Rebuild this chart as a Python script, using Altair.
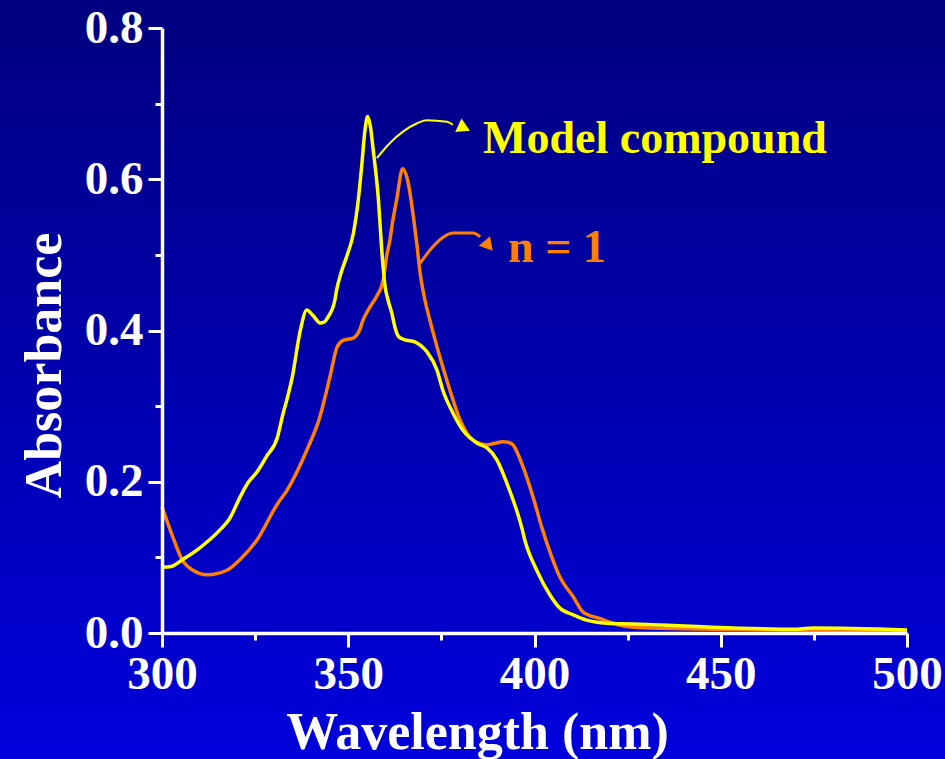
import altair as alt
import pandas as pd

# Model compound (yellow) spectrum
model_wl = [300.0, 302.5, 305.5, 310.0, 315.5, 318.0, 321.0, 323.0, 325.5, 328.0, 331.0, 332.5,
            333.5, 335.0, 337.0, 338.9, 340.5, 342.5, 343.5, 344.6, 346.4, 346.9, 348.0, 349.6,
            351.4, 352.7, 353.6, 354.5, 355.2, 356.0, 356.7, 358.1, 359.0, 359.9, 360.7, 361.7,
            362.5, 363.5, 365.0, 367.9, 369.5, 371.1, 373.8, 375.4, 378.1, 380.8, 384.6, 387.2,
            389.9, 392.6, 396.6, 397.4, 400.6, 404.2, 406.8, 410.4, 414.0, 419.4, 426.4, 443.5,
            470.4, 474.8, 500.0]
model_abs = [0.087, 0.088, 0.097, 0.112, 0.136, 0.150, 0.180, 0.198, 0.213, 0.233, 0.259, 0.290,
             0.308, 0.339, 0.397, 0.427, 0.420, 0.410, 0.411, 0.418, 0.440, 0.454, 0.475, 0.498,
             0.529, 0.573, 0.617, 0.665, 0.683, 0.668, 0.639, 0.573, 0.506, 0.458, 0.440, 0.423,
             0.405, 0.392, 0.388, 0.385, 0.380, 0.372, 0.348, 0.321, 0.291, 0.268, 0.251, 0.245,
             0.229, 0.198, 0.139, 0.123, 0.083, 0.050, 0.033, 0.024, 0.017, 0.013, 0.012, 0.0085,
             0.005, 0.0066, 0.004]

# n = 1 (orange) spectrum
n1_wl = [300.0, 302.9, 305.4, 308.3, 312.1, 317.4, 320.9, 325.5, 330.9, 333.6, 338.9, 342.4,
         345.1, 347.0, 348.6, 351.3, 353.0, 354.0, 355.8, 357.6, 359.4, 360.3, 361.2, 361.7,
         363.0, 364.6, 366.1, 367.5, 368.4, 369.3, 370.6, 371.9, 374.6, 377.3, 380.0, 383.5,
         387.2, 389.5, 391.5, 393.0, 394.2, 396.9, 399.6, 402.0, 404.6, 406.8, 410.4, 413.0,
         417.6, 424.8, 431.0, 470.4, 500.0]
n1_abs = [0.167, 0.127, 0.097, 0.083, 0.077, 0.083, 0.097, 0.123, 0.170, 0.189, 0.242, 0.286,
          0.339, 0.378, 0.387, 0.390, 0.400, 0.414, 0.431, 0.445, 0.467, 0.498, 0.520, 0.537,
          0.573, 0.614, 0.595, 0.550, 0.515, 0.476, 0.440, 0.414, 0.365, 0.321, 0.282, 0.255,
          0.249, 0.251, 0.253, 0.252, 0.249, 0.220, 0.180, 0.139, 0.101, 0.074, 0.048, 0.028,
          0.019, 0.0085, 0.0066, 0.004, 0.003]

# annotation arrows (data coordinates)
model_arrow_wl = [357.7, 361.2, 364.7, 368.5, 371.1, 376.5, 378.1]
model_arrow_abs = [0.628, 0.648, 0.663, 0.674, 0.678, 0.676, 0.672]
n1_arrow_wl = [369.3, 371.9, 374.6, 378.1, 383.5, 385.4]
n1_arrow_abs = [0.489, 0.506, 0.520, 0.529, 0.529, 0.524]
arrow_heads_wl = [380.6, 387.3]
arrow_heads_abs = [0.669, 0.514]

label_texts = ["Model compound", "n = 1"]
label_wl = [386.2, 392.9]
label_abs = [0.635, 0.490]

x_major = [300, 350, 400, 450, 500]
x_minor = [325, 375, 425, 475]
y_major = [0.0, 0.2, 0.4, 0.6, 0.8]
y_minor = [0.1, 0.3, 0.5, 0.7]

YELLOW = "#FFFF00"
ORANGE = "#FF8000"
FONT = "Liberation Serif"

xs = alt.Scale(domain=[300, 500], nice=False, zero=False)
ys = alt.Scale(domain=[0, 0.8], nice=False, zero=False)

model_df = pd.DataFrame({"wl": model_wl, "a": model_abs})
n1_df = pd.DataFrame({"wl": n1_wl, "a": n1_abs})
marr_df = pd.DataFrame({"wl": model_arrow_wl, "a": model_arrow_abs})
narr_df = pd.DataFrame({"wl": n1_arrow_wl, "a": n1_arrow_abs})
heads_df = pd.DataFrame({"wl": arrow_heads_wl, "a": arrow_heads_abs,
                         "c": [YELLOW, ORANGE], "ang": [115, 140]})
labels_df = pd.DataFrame({"t": label_texts, "wl": label_wl, "a": label_abs,
                          "c": [YELLOW, ORANGE]})

axis_common = dict(
    domainColor="white", domainWidth=3.5, tickColor="white", tickWidth=3,
    labelColor="white", labelFont=FONT, labelFontSize=47, labelFontWeight="bold",
    titleColor="white", titleFont=FONT, titleFontSize=52, titleFontWeight="bold",
    grid=False, zindex=1,
)

x_axis_major = alt.Axis(orient="bottom", values=x_major, tickSize=14, labelPadding=4, format="d",
                        title="Wavelength (nm)", titleX=315, titleY=115,
                        titleBaseline="alphabetic", titleAlign="center", labelFlush=False,
                        labelOverlap=False, **axis_common)
y_axis_major = alt.Axis(orient="left", values=y_major, tickSize=14, labelPadding=5, format=".1f",
                        title="Absorbance", titleX=-102, titleY=337, titleAngle=270,
                        titleBaseline="alphabetic", titleAlign="center", labelFlush=False,
                        labelOverlap=False, labelBaseline="middle", **axis_common)
x_axis_minor = alt.Axis(orient="bottom", values=x_minor, tickSize=7, labels=False, domain=False,
                        title=None, tickColor="white", tickWidth=3, grid=False, zindex=1)
y_axis_minor = alt.Axis(orient="left", values=y_minor, tickSize=7, labels=False, domain=False,
                        title=None, tickColor="white", tickWidth=3, grid=False, zindex=1)

bg = alt.Chart(pd.DataFrame({"k": [0]})).mark_rect(
    fill=alt.LinearGradient(
        gradient="linear",
        stops=[alt.GradientStop(color="#000080", offset=0),
               alt.GradientStop(color="#0000DC", offset=1)],
        x1=0, x2=0, y1=0, y2=1,
    )
).encode(x=alt.value(-162), x2=alt.value(783), y=alt.value(-28), y2=alt.value(731))

orange_line = alt.Chart(n1_df).mark_line(color=ORANGE, strokeWidth=3.5, interpolate="monotone").encode(
    x=alt.X("wl:Q", scale=xs, axis=x_axis_major),
    y=alt.Y("a:Q", scale=ys, axis=y_axis_major),
)
minor = alt.Chart(n1_df).mark_point(opacity=0).encode(
    x=alt.X("wl:Q", scale=xs, axis=x_axis_minor),
    y=alt.Y("a:Q", scale=ys, axis=y_axis_minor),
)
yellow_line = alt.Chart(model_df).mark_line(color=YELLOW, strokeWidth=3.5, interpolate="monotone").encode(
    x=alt.X("wl:Q", scale=xs, axis=None),
    y=alt.Y("a:Q", scale=ys, axis=None),
)
marr = alt.Chart(marr_df).mark_line(color=YELLOW, strokeWidth=2, interpolate="monotone").encode(
    x=alt.X("wl:Q", scale=xs, axis=None),
    y=alt.Y("a:Q", scale=ys, axis=None),
)
narr = alt.Chart(narr_df).mark_line(color=ORANGE, strokeWidth=3, interpolate="monotone").encode(
    x=alt.X("wl:Q", scale=xs, axis=None),
    y=alt.Y("a:Q", scale=ys, axis=None),
)
heads = alt.Chart(heads_df).mark_point(shape="triangle", filled=True, size=220, opacity=1).encode(
    x=alt.X("wl:Q", scale=xs, axis=None),
    y=alt.Y("a:Q", scale=ys, axis=None),
    color=alt.Color("c:N", scale=None, legend=None),
    angle=alt.Angle("ang:Q", scale=None),
)
labels = alt.Chart(labels_df).mark_text(
    font=FONT, fontSize=46, fontWeight="bold", align="left", baseline="alphabetic"
).encode(
    x=alt.X("wl:Q", scale=xs, axis=None),
    y=alt.Y("a:Q", scale=ys, axis=None),
    text="t:N",
    color=alt.Color("c:N", scale=None, legend=None),
)

chart = alt.layer(bg, orange_line, minor, yellow_line, marr, narr, heads, labels).resolve_axis(
    x="independent", y="independent"
).properties(
    width=745, height=605,
    autosize=alt.AutoSizeParams(type="none"),
    padding={"left": 162, "top": 28, "right": 38, "bottom": 126},
    background="#000080",
).configure_view(stroke=None)

chart.save("out.html", embed_options={"renderer": "svg", "actions": False})
